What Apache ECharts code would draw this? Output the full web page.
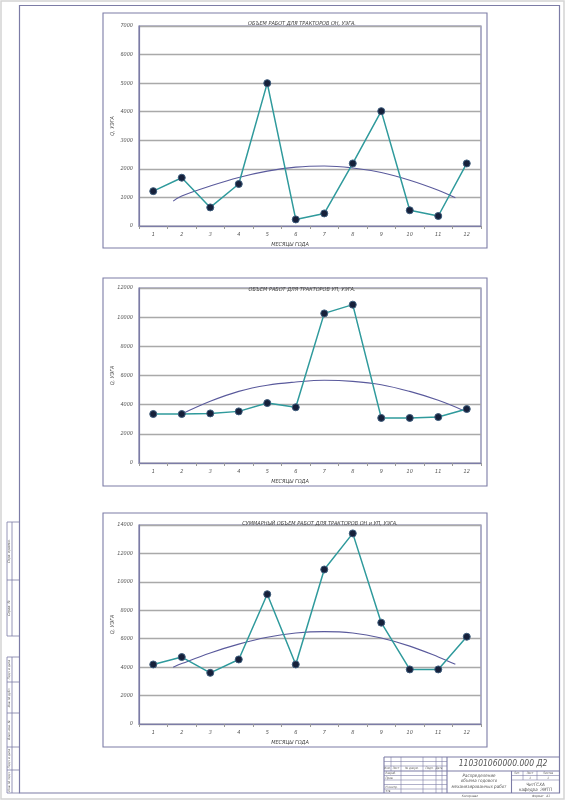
<!DOCTYPE html>
<html>
<head>
<meta charset="utf-8">
<title>Распределение объема годового механизированных работ</title>
<script src="https://cdn.jsdelivr.net/npm/echarts@6/dist/echarts.min.js"></script>
<style>
    html, body {margin: 0; padding: 0; background: #fff;}
    #chart {width: 565px; height: 800px;}
</style>
</head>
<body>
<div id="chart"></div>
<script>
// месяцы года
var months = ['1', '2', '3', '4', '5', '6', '7', '8', '9', '10', '11', '12'];

var volumeOn = [1220, 1690, 650, 1470, 5000, 230, 440, 2190, 4020, 550, 350, 2190];
var volumeUp = [3360, 3360, 3400, 3540, 4110, 3820, 10260, 10860, 3090, 3090, 3150, 3700];
var volumeSum = [4190, 4710, 3600, 4540, 9130, 4190, 10870, 13410, 7130, 3840, 3840, 6140];

var trendOnX = [1.7, 2, 3, 4, 5, 6, 7, 8, 9, 10, 11, 11.6];
var trendOnY = [870, 1050, 1400, 1700, 1920, 2060, 2100, 2030, 1870, 1600, 1250, 990];
var trendUpX = [2, 3, 4, 5, 6, 7, 8, 9, 10, 11, 11.9];
var trendUpY = [3360, 4230, 4910, 5330, 5550, 5670, 5600, 5370, 4910, 4300, 3590];
var trendSumX = [1.7, 2, 3, 4, 5, 6, 7, 8, 9, 10, 11, 11.6];
var trendSumY = [4000, 4250, 5000, 5620, 6100, 6400, 6500, 6400, 6050, 5480, 4720, 4200];

// шкалы
var yMax = [7000, 12000, 14000];
var yStep = [1000, 2000, 2000];

var titles = [
    'ОБЪЕМ РАБОТ ДЛЯ ТРАКТОРОВ ОН, УЭГА.',
    'ОБЪЕМ РАБОТ ДЛЯ ТРАКТОРОВ УП, УЭГА.',
    'СУММАРНЫЙ ОБЪЕМ РАБОТ ДЛЯ ТРАКТОРОВ ОН и УП, УЭГА.'
];

var FONT = "'Liberation Sans Narrow', 'DejaVu Sans Condensed', 'DejaVu Sans', sans-serif";
var frameColor = '#7c7ca6';
var gridTop = [26, 288, 525];
var gridHeight = [200, 175, 199];
var boxes = [[103, 13, 384, 235], [103, 278, 384, 208], [103, 513, 384, 234]];
var titleX = [297, 297, 315];
var titleY = [16, 282, 516];

function pairs(xs, ys) {
    var out = [];
    for (var i = 0; i < xs.length; i++) out.push([xs[i], ys[i]]);
    return out;
}

var values = [volumeOn, volumeUp, volumeSum];
var trends = [pairs(trendOnX, trendOnY), pairs(trendUpX, trendUpY), pairs(trendSumX, trendSumY)];

var grids = [], xAxes = [], yAxes = [], series = [], titleList = [];
for (var k = 0; k < 3; k++) {
    grids.push({
        left: 139, width: 342, top: gridTop[k], height: gridHeight[k],
        show: true, borderColor: frameColor, borderWidth: 1.2, backgroundColor: 'transparent'
    });
    titleList.push({
        text: titles[k], left: titleX[k], top: titleY[k], textAlign: 'center',
        textStyle: {fontFamily: FONT, fontSize: 5.5, fontStyle: 'italic', fontWeight: 'normal', color: '#444'}
    });
    // категории месяцев
    xAxes.push({
        type: 'category', gridIndex: k, data: months, boundaryGap: true,
        name: 'МЕСЯЦЫ ГОДА', nameLocation: 'middle', nameGap: 16, nameMoveOverlap: false,
        nameTextStyle: {fontFamily: FONT, fontSize: 5.5, fontStyle: 'italic', color: '#444', padding: [0, 40, 0, 0]},
        axisLine: {lineStyle: {color: frameColor, width: 1.2}},
        axisTick: {show: true, length: 3, lineStyle: {color: '#999'}},
        axisLabel: {fontFamily: FONT, fontSize: 5.5, fontStyle: 'italic', color: '#555', margin: 6},
        splitLine: {show: false}
    });
    // скрытая числовая ось для линии тренда
    xAxes.push({
        type: 'value', gridIndex: k, min: 0.5, max: 12.5, show: false
    });
    yAxes.push({
        type: 'value', gridIndex: k, min: 0, max: yMax[k], interval: yStep[k],
        name: 'Q, УЭГА', nameLocation: 'middle', nameGap: 23, nameMoveOverlap: false,
        nameTextStyle: {fontFamily: FONT, fontSize: 5.5, fontStyle: 'italic', color: '#555'},
        axisLine: {show: true, lineStyle: {color: frameColor, width: 1.2}},
        axisTick: {show: false},
        axisLabel: {
            fontFamily: FONT, fontSize: 5.5, fontStyle: 'italic', color: '#555', margin: 6,
            formatter: function (v) { return String(v); }
        },
        splitLine: {show: true, lineStyle: {color: '#a9a9a9', width: 1.4}}
    });
    series.push({
        type: 'line', xAxisIndex: 2 * k + 1, yAxisIndex: k, data: trends[k],
        smooth: 0.4, showSymbol: false, z: 2,
        lineStyle: {color: '#5a5a9c', width: 1.1}
    });
    series.push({
        type: 'line', xAxisIndex: 2 * k, yAxisIndex: k, data: values[k],
        symbol: 'circle', symbolSize: 7, z: 3,
        lineStyle: {color: '#2f9a9c', width: 1.5},
        itemStyle: {color: '#16203a', borderColor: '#3d5c7c', borderWidth: 1}
    });
}

// рамка листа, основная надпись, боковые графы
var g = [];
function line(x1, y1, x2, y2, w, c) {
    g.push({type: 'line', silent: true, shape: {x1: x1, y1: y1, x2: x2, y2: y2},
        style: {stroke: c || frameColor, lineWidth: w || 0.8}});
}
function rect(x, y, w, h, lw, c) {
    g.push({type: 'rect', silent: true, shape: {x: x, y: y, width: w, height: h},
        style: {fill: 'none', stroke: c || frameColor, lineWidth: lw || 1}});
}
function txt(x, y, s, size, rot, align) {
    g.push({type: 'text', silent: true, x: x, y: y, rotation: rot || 0,
        style: {text: s, x: 0, y: 0, fill: '#555', textAlign: align || 'center', textVerticalAlign: 'middle',
            font: 'italic ' + size + 'px ' + FONT}});
}

rect(1, 1, 563, 798, 1.5, '#d4d4d4');
rect(19.5, 5.5, 540, 787.5, 1.2);
for (var b = 0; b < boxes.length; b++) rect(boxes[b][0], boxes[b][1], boxes[b][2], boxes[b][3], 1.1);

// боковые графы
rect(7, 522, 12.5, 114, 0.8);
line(7, 580, 19.5, 580);
line(12, 522, 12, 636);
txt(9.5, 551, 'Перв. примен.', 3.5, Math.PI / 2);
txt(9.5, 608, 'Справ. №', 3.5, Math.PI / 2);
rect(7, 657, 12.5, 136, 0.8);
line(12, 657, 12, 793);
[682, 713, 747, 770].forEach(function (yy) { line(7, yy, 19.5, yy); });
txt(9.5, 669.5, 'Подп. и дата', 3.2, Math.PI / 2);
txt(9.5, 697.5, 'Инв. № дубл.', 3.2, Math.PI / 2);
txt(9.5, 730, 'Взам. инв. №', 3.2, Math.PI / 2);
txt(9.5, 758.5, 'Подп. и дата', 3.2, Math.PI / 2);
txt(9.5, 781.5, 'Инв. № подл.', 3.2, Math.PI / 2);

// основная надпись
line(384, 757, 559.5, 757, 1.1);
line(384, 757, 384, 793, 1.1);
line(447, 757, 447, 793, 1.1);
line(384, 771, 559.5, 771, 1.1);
[761.5, 766, 775.5, 780, 784.5, 789].forEach(function (yy) { line(384, yy, 447, yy, 0.6); });
[391, 401, 423, 436, 442].forEach(function (xx) { line(xx, 757, xx, 771, 0.6); });
[401, 423, 436, 442].forEach(function (xx) { line(xx, 771, xx, 793, 0.6); });
txt(387.5, 768.5, 'Изм.', 3);
txt(396, 768.5, 'Лист', 3);
txt(412, 768.5, '№ докум.', 3);
txt(429.5, 768.5, 'Подп.', 3);
txt(439, 768.5, 'Дата', 3);
txt(385.5, 773.3, 'Разраб.', 3, 0, 'left');
txt(385.5, 777.8, 'Пров.', 3, 0, 'left');
txt(385.5, 786.8, 'Н.контр.', 3, 0, 'left');
txt(385.5, 791, 'Утв.', 3, 0, 'left');
txt(503, 764, '110301060000.000 Д2', 8.5);
line(511.5, 771, 511.5, 793, 1.1);
line(511.5, 775.5, 559.5, 775.5, 0.6);
line(511.5, 780, 559.5, 780, 0.6);
line(523, 771, 523, 780, 0.6);
line(537, 771, 537, 780, 0.6);
txt(479, 775.5, 'Распределение', 4.5);
txt(479, 781, 'объема годового', 4.5);
txt(479, 786.5, 'механизированных работ', 4.5);
txt(517, 773.3, 'Лит.', 3);
txt(530, 773.3, 'Лист', 3);
txt(548, 773.3, 'Листов', 3);
txt(530, 777.8, '1', 3);
txt(548, 777.8, '1', 3);
txt(535.5, 784.5, 'ЧитГСХА', 4.5);
txt(535.5, 789.5, 'кафедра  ЭМТП', 4.5);
txt(470, 796.5, 'Копировал', 3.2);
txt(541, 796.5, 'Формат   А1', 3.2);

var option = {
    animation: false,
    backgroundColor: '#fff',
    title: titleList,
    grid: grids,
    xAxis: xAxes,
    yAxis: yAxes,
    series: series,
    graphic: g
};

var myChart = echarts.init(document.getElementById('chart'), null, {renderer: 'canvas'});
myChart.setOption(option);
</script>
</body>
</html>
